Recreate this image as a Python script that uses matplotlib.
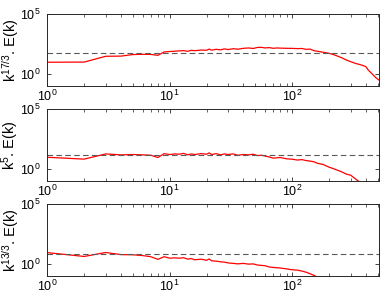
import matplotlib
matplotlib.use("Agg")
import matplotlib.pyplot as plt
from matplotlib.ticker import LogLocator, NullLocator

plt.rcParams["font.family"] = ["Liberation Sans", "DejaVu Sans"]
plt.rcParams["mathtext.fontset"] = "custom"
plt.rcParams["mathtext.rm"] = "Liberation Sans"
plt.rcParams["mathtext.it"] = "Liberation Sans:italic"

# compensated spectra
k_top = [1, 2, 3, 4, 5, 6, 7, 8, 9, 10, 11, 12, 13, 14, 15, 16, 18, 20, 21, 22,
         24, 26, 28, 30, 33, 36, 40, 44, 48, 52, 56, 60, 65, 70, 75, 80, 90, 100,
         110, 120, 130, 140, 150, 160, 180, 200, 220, 250, 280, 300, 330, 350,
         380, 400, 420, 450, 480, 512]
e_top = [9.5, 9.8, 30, 31, 42, 44, 43, 36, 70, 75, 80, 85, 90, 78, 95, 88, 100,
         96, 120, 98, 115, 105, 125, 110, 130, 118, 140, 150, 135, 165, 170, 150,
         160, 140, 150, 145, 140, 138, 132, 135, 115, 120, 90, 80, 65, 53, 40,
         24, 14, 10.7, 7.5, 6.4, 5, 4, 2, 1, 0.5, 0.3]

k_mid = [1, 2, 3, 4, 5, 6, 7, 8, 9, 10, 11, 12, 13, 14, 15, 16, 18, 20, 21, 22,
         24, 26, 28, 30, 33, 36, 40, 44, 48, 52, 56, 60, 65, 70, 80, 90, 100,
         110, 120, 130, 140, 150, 160, 180, 200, 220, 250, 280, 300, 330, 350]
e_mid = [9.4, 6.6, 18, 15, 16, 15, 14, 9, 19, 16, 18, 17, 20, 15, 18, 16, 19,
         17, 22, 16, 19, 15, 18, 16, 18, 14, 16, 15, 17, 13, 14, 12, 10, 8, 9,
         7, 6.5, 5.5, 6, 5, 4.5, 4, 3, 2.3, 1.4, 1.0, 0.6, 0.35, 0.3, 0.14, 0.09]

k_bot = [1, 2, 3, 4, 5, 6, 7, 8, 9, 10, 11, 12, 13, 14, 15, 16, 18, 20, 21, 22,
         24, 26, 28, 30, 33, 36, 40, 44, 48, 52, 56, 60, 65, 70, 80, 90, 100,
         110, 120, 130, 140, 150, 160]
e_bot = [8.8, 4.2, 9, 6, 5.8, 5, 4, 2.4, 4, 3, 3.2, 3, 3.3, 2.5, 2.8, 2.2, 2.5,
         2.0, 2.6, 1.8, 1.7, 1.5, 1.4, 1.2, 1.1, 1.0, 1.1, 0.95, 1.0, 0.8, 0.75,
         0.7, 0.55, 0.5, 0.45, 0.38, 0.32, 0.3, 0.25, 0.2, 0.15, 0.11, 0.08]

levels = [56, 15, 6.8]
ylabels = [r"k$^{17/3}$. E(k)", r"k$^{5}$. E(k)", r"k$^{13/3}$. E(k)"]
series = [(k_top, e_top), (k_mid, e_mid), (k_bot, e_bot)]

fig = plt.figure(figsize=(3.82, 2.98), dpi=100)
W, H = 382, 298
tops = [14.3, 109.3, 204.3]
height = 71.5
left, right = 47.3, 379

for i, ((k, e), lev, lab) in enumerate(zip(series, levels, ylabels)):
    ax = fig.add_axes([left / W, 1 - (tops[i] + height) / H,
                       (right - left) / W, height / H])
    ax.plot(k, e, color="red", lw=0.9)
    ax.axhline(lev, color="0.35", lw=0.8, ls=(0, (5, 3)))
    ax.set_xscale("log")
    ax.set_yscale("log")
    ax.set_xlim(1, 512)
    ax.set_ylim(1e-1, 1e5)
    ax.set_yticks([1, 1e5])
    ax.yaxis.set_minor_locator(NullLocator())
    ax.xaxis.set_minor_locator(LogLocator(base=10, subs=range(2, 10)))
    ax.tick_params(which="both", direction="in", top=True, right=True,
                   labelsize=9, color="0.15")
    ax.tick_params(which="major", length=3, width=0.6)
    ax.tick_params(which="minor", length=2, width=0.5)
    ax.tick_params(axis="x", pad=2)
    ax.tick_params(axis="y", pad=5)
    for s in ax.spines.values():
        s.set_color("0.15")
        s.set_linewidth(0.7)
    ax.set_ylabel(lab, fontsize=10.5)
    ax.yaxis.set_label_coords(-0.079, 0.5)

fig.savefig("out.png", dpi=100)
